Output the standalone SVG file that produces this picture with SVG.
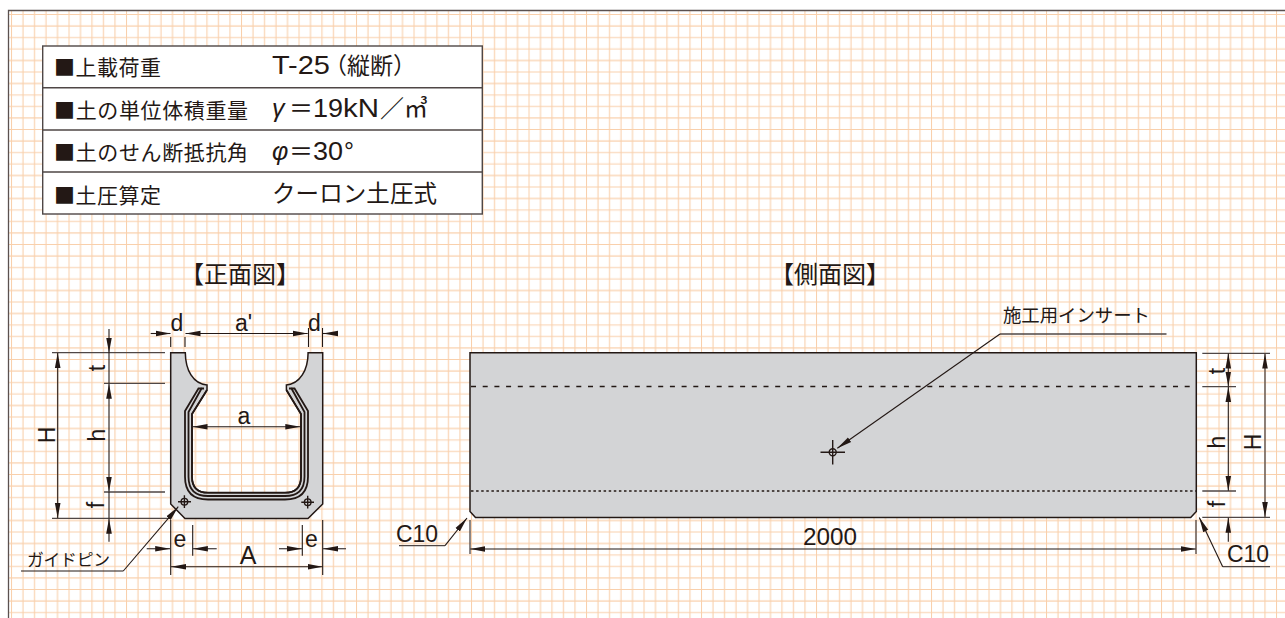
<svg xmlns="http://www.w3.org/2000/svg" width="1285" height="618" viewBox="0 0 1285 618">
<style>
text{font-family:"Liberation Sans","Noto Sans CJK JP",sans-serif;fill:#231815}
.jp{font-family:"Noto Sans CJK JP",sans-serif;font-weight:400}
.t21{font-size:21px}
.lb{font-size:23px;text-anchor:middle}
.d{fill:none;stroke:#231815;stroke-width:1.1}
.g{fill:none;stroke:#4f4746;stroke-width:1.3}
.a{marker-end:url(#arr)}
.s{marker-start:url(#arr)}
.body{fill:#d3d4d6;stroke:#231815;stroke-width:1.5}
.lin{fill:none;stroke:#231815;stroke-width:1.8}
.tb{fill:none;stroke:#4f4746;stroke-width:1.4}
.pin{fill:none;stroke:#231815;stroke-width:1.4}
</style>
<defs>
<marker id="arr" markerUnits="userSpaceOnUse" markerWidth="16" markerHeight="8" viewBox="0 -4 16 8" refX="15" refY="0" orient="auto-start-reverse"><path d="M0 -2.8L15 0L0 2.8Z" fill="#231815"/></marker>
<pattern id="grid" patternUnits="userSpaceOnUse" x="11" y="14" width="57.5" height="57.5">
<path d="M0.5 0V57.5M12 0V57.5M23.5 0V57.5M35 0V57.5M46.5 0V57.5M0 0.5H57.5M0 12H57.5M0 23.5H57.5M0 35H57.5M0 46.5H57.5" fill="none" stroke="#f9d0ac" stroke-width="1.1"/>
</pattern>
</defs>
<rect width="1285" height="618" fill="#fff"/>
<rect x="9" y="11" width="1276" height="607" fill="url(#grid)"/>
<path d="M8.5 618V10.5H1285" fill="none" stroke="#5a5150" stroke-width="1.3"/>

<g id="table">
<rect x="42.7" y="46" width="439.6" height="168" class="tb" style="fill:#fff"/>
<path class="tb" d="M42.7 87.7H482.3M42.7 130H482.3M42.7 172H482.3"/>
<text class="jp t21" x="54" y="75" textLength="107">■上載荷重</text>
<text class="jp t21" x="54" y="117.5" textLength="194">■土の単位体積重量</text>
<text class="jp t21" x="54" y="160" textLength="194">■土のせん断抵抗角</text>
<text class="jp t21" x="54" y="202.5" textLength="107">■土圧算定</text>
<text font-size="25" y="74"><tspan x="272" textLength="58" lengthAdjust="spacingAndGlyphs">T-25</tspan><tspan class="jp" font-size="23" x="324">（縦断）</tspan></text>
<text font-size="25" y="117"><tspan x="272" font-style="italic">γ</tspan><tspan class="jp" x="289" font-size="24">＝</tspan><tspan x="313" textLength="30" lengthAdjust="spacingAndGlyphs">19</tspan><tspan x="343" textLength="36" lengthAdjust="spacingAndGlyphs">kN</tspan><tspan class="jp" x="380" font-size="24">／</tspan><tspan class="jp" x="404" font-size="24">㎥</tspan></text>
<text font-size="25" y="160"><tspan x="272" font-style="italic">φ</tspan><tspan class="jp" x="289" font-size="24">＝</tspan><tspan x="313" textLength="30" lengthAdjust="spacingAndGlyphs">30</tspan><tspan x="344">°</tspan></text>
<text class="jp" x="272" y="202" font-size="23.5" textLength="165">クーロン土圧式</text>
</g>

<g id="front-title"><text class="jp" x="240" y="283" font-size="24" text-anchor="middle">【正面図】</text></g>
<g id="side-title"><text class="jp" x="830" y="283" font-size="24" text-anchor="middle">【側面図】</text></g>

<g id="front-view">
<path class="body" d="M170.7 352.7H185.3C185.5 370 193 384 207 385V390L192 414V476.7Q192 492.7 208 492.7H285Q301 492.7 301 476.7V414L286.4 390V385C300 384 308 370 308.1 352.7H322.7V504L308 518.5H185L170.7 504Z"/>
<path class="lin" d="M207 390L192 414V476.7Q192 492.7 208 492.7H285Q301 492.7 301 476.7V414L286.4 390"/>
<path class="lin" d="M204 388.5H201.5L188.5 412V476.7Q188.5 496 208 496H285Q304.5 496 304.5 476.7V412L291.5 388.5H289"/>
<path class="lin" d="M201.5 388.5H198.5L185 411V476.7Q185 499.5 208 499.5H285Q308 499.5 308 476.7V411L294.5 388.5H291.5"/>
<g id="pin-left"><circle class="pin" cx="184.4" cy="501.7" r="3.3"/><path class="pin" d="M178 501.7H191M184.4 495.3V508"/></g>
<g id="pin-right"><circle class="pin" cx="307.7" cy="502.2" r="3.3"/><path class="pin" d="M301.3 502.2H314M307.7 495.8V508.6"/></g>
</g>

<g id="side-view">
<path class="body" d="M470 352.7H1196.3V511.5L1190.7 517.5H475.5L470 511.5Z"/>
<path d="M471 386.5H1196" fill="none" stroke="#231815" stroke-width="1.5" stroke-dasharray="5 6.7"/>
<path d="M471 491H1196" fill="none" stroke="#231815" stroke-width="1.5" stroke-dasharray="2.5 2.6"/>
<g id="insert"><circle class="pin" cx="832.7" cy="452.3" r="3.5"/><path class="pin" d="M820.5 452.3H845M832.7 440V464.5"/></g>
</g>

<g id="connectors">
<path class="d" d="M170.7 337V347M185 337V347M308.5 328V347M322.5 328V347"/>
<path class="d a" d="M150.7 333.5H170.5"/>
<path class="d s a" d="M185.5 333.5H307.7"/>
<path class="d s" d="M323 333.5H338"/>
<path class="d s a" d="M192.5 426.7H300.3"/>
<path class="g" d="M52 352.7H165M104 383.3H165M104 492H165M52 518.3H170"/>
<path class="d s a" d="M57.7 353V518"/>
<path class="d a" d="M109 329V352.7"/>
<path class="d" d="M109 352.7V383.3"/>
<path class="d s a" d="M109 383.8V491.7"/>
<path class="d" d="M109 492V518.3"/>
<path class="d s" d="M109 518.8V541.7"/>
<path class="d" d="M170.7 520V575M192.7 525V555.7M302.3 525V555.7M322.7 520V575"/>
<path class="g a" d="M146.7 548.7H170.2"/>
<path class="g s" d="M192.9 548.7H216.7"/>
<path class="g a" d="M279 548.7H302"/>
<path class="g s" d="M323 548.7H346"/>
<path class="d s a" d="M171 566.7H322.5"/>
<path class="d" d="M21 571H123.3"/>
<path class="d a" d="M123.3 571L178.3 506.7"/>
<path class="g" d="M1000 334H1166.5"/>
<path class="d a" d="M1000 334L837.3 448.3"/>
<path class="g" d="M1202.3 353.3H1270M1202.3 386.7H1236M1202.3 491H1236M1202.3 517.3H1270"/>
<path class="d s a" d="M1228.3 353.5V386.5"/>
<path class="d s a" d="M1228.3 387V490.7"/>
<path class="d s" d="M1228.3 517.7V541.7"/>
<path class="g s a" d="M1265 353.5V517"/>
<path class="g" d="M470 520V554M1196 520V554"/>
<path class="d s a" d="M470.3 549H1195.7"/>
<path class="g" d="M399 545.7H445M1222.7 566.7H1270"/>
<path class="d a" d="M445 545.7L467 518"/>
<path class="d a" d="M1222.7 566.7L1199.3 517.5"/>
</g>

<g id="labels">
<text class="lb" x="177" y="331">d</text>
<text class="lb" x="243.5" y="331">a'</text>
<text class="lb" x="314.5" y="331">d</text>
<text class="lb" x="244" y="424">a</text>
<text class="lb" x="180" y="547">e</text>
<text class="lb" x="311.5" y="547">e</text>
<text class="lb" x="248" y="564" style="font-size:25px">A</text>
<text class="lb" transform="rotate(-90 55 435)" x="55" y="435">H</text>
<text class="lb" transform="rotate(-90 105 435)" x="105" y="435">h</text>
<text class="lb" transform="rotate(-90 105 368)" x="105" y="368">t</text>
<text class="lb" transform="rotate(-90 104 505)" x="104" y="505">f</text>
<text class="lb" transform="rotate(-90 1225 371)" x="1225" y="371">t</text>
<text class="lb" transform="rotate(-90 1225 442)" x="1225" y="442">h</text>
<text class="lb" transform="rotate(-90 1261 442)" x="1261" y="442">H</text>
<text class="lb" transform="rotate(-90 1225 504)" x="1225" y="504">f</text>
<text class="jp" x="27" y="566" font-size="16.8" textLength="83">ガイドピン</text>
<text class="jp" x="1003" y="322" font-size="18.4" textLength="147">施工用インサート</text>
<text x="803" y="545" font-size="24" textLength="54" lengthAdjust="spacingAndGlyphs">2000</text>
<text x="396" y="542" font-size="24" textLength="42" lengthAdjust="spacingAndGlyphs">C10</text>
<text x="1227" y="562" font-size="24" textLength="42" lengthAdjust="spacingAndGlyphs">C10</text>
</g>
</svg>
